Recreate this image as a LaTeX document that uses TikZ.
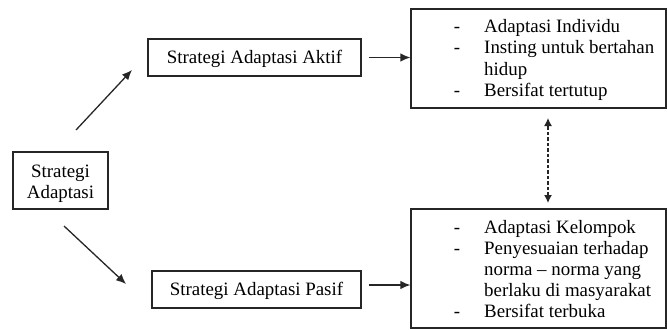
\documentclass[tikz,border=0pt]{standalone}
\usepackage{fontspec}
\setmainfont{Liberation Serif}
\usetikzlibrary{arrows.meta}
\begin{document}
\begin{tikzpicture}[x=1bp,y=-1bp,
  box/.style={draw=black!85,line width=1.2bp,rectangle,inner sep=0pt},
  txt/.style={inner sep=0pt,text=black,font=\fontsize{18.9bp}{21.3bp}\selectfont},
  arr/.style={line width=1.3bp,draw=black!85,-{Latex[length=10bp,width=8.5bp]}},
  darr/.style={line width=1.3bp,draw=black!85,dash pattern=on 3.5bp off 2bp,{Latex[length=8bp,width=8bp]}-{Latex[length=8bp,width=8bp]}}]
\useasboundingbox (0,0) rectangle (667,329);
% boxes
\node[box,minimum width=95bp,minimum height=57bp] (sa) at (60.5,180.5) {};
\node[box,minimum width=213bp,minimum height=37bp] (aktif) at (254.5,57.5) {};
\node[box,minimum width=209bp,minimum height=37bp] (pasif) at (256.5,289.5) {};
\node[box,minimum width=255bp,minimum height=99bp] (top) at (538.5,58.5) {};
\node[box,minimum width=255bp,minimum height=119bp] (bot) at (538.5,268.5) {};
% texts
\node[txt,anchor=base] (sa1) at (60.5,177) {Strategi};
\node[txt,anchor=base] (sa2) at (60.5,198) {Adaptasi};
\node[txt,anchor=base] (akt) at (254.5,63) {Strategi Adaptasi Aktif};
\node[txt,anchor=base] (pst) at (256.5,295) {Strategi Adaptasi Pasif};
% top list
\node[txt,anchor=base] (td1) at (457,32) {-};
\node[txt,anchor=base west] (tt1) at (484,32) {Adaptasi Individu};
\node[txt,anchor=base] (td2) at (457,53.5) {-};
\node[txt,anchor=base west] (tt2) at (484,53.5) {Insting untuk bertahan};
\node[txt,anchor=base west] (tt3) at (484,75) {hidup};
\node[txt,anchor=base] (td4) at (457,96.5) {-};
\node[txt,anchor=base west] (tt4) at (484,96.5) {Bersifat tertutup};
% bottom list
\node[txt,anchor=base] (bd1) at (457,233) {-};
\node[txt,anchor=base west] (bt1) at (484,233) {Adaptasi Kelompok};
\node[txt,anchor=base] (bd2) at (457,254) {-};
\node[txt,anchor=base west] (bt2) at (484,254) {Penyesuaian terhadap};
\node[txt,anchor=base west] (bt3) at (484,275) {norma -- norma yang};
\node[txt,anchor=base west] (bt4) at (484,296) {berlaku di masyarakat};
\node[txt,anchor=base] (bd5) at (457,317) {-};
\node[txt,anchor=base west] (bt5) at (484,317) {Bersifat terbuka};
% connector end points
\coordinate (a1s) at (76,130);
\coordinate (a1e) at (132,70);
\coordinate (a2s) at (64,226);
\coordinate (a2e) at (126,284);
\coordinate (a3s) at (369,57.5);
\coordinate (a4s) at (369,285);
\coordinate (d1) at (548,118);
\coordinate (d2) at (548,203);
% connectors
\draw[arr] (a1s) -- (a1e);
\draw[arr] (a2s) -- (a2e);
\draw[arr] (a3s) -- (a3s -| top.west);
\draw[arr] (a4s) -- (a4s -| bot.west);
\draw[darr] (d2) -- (d1);
\end{tikzpicture}
\end{document}
